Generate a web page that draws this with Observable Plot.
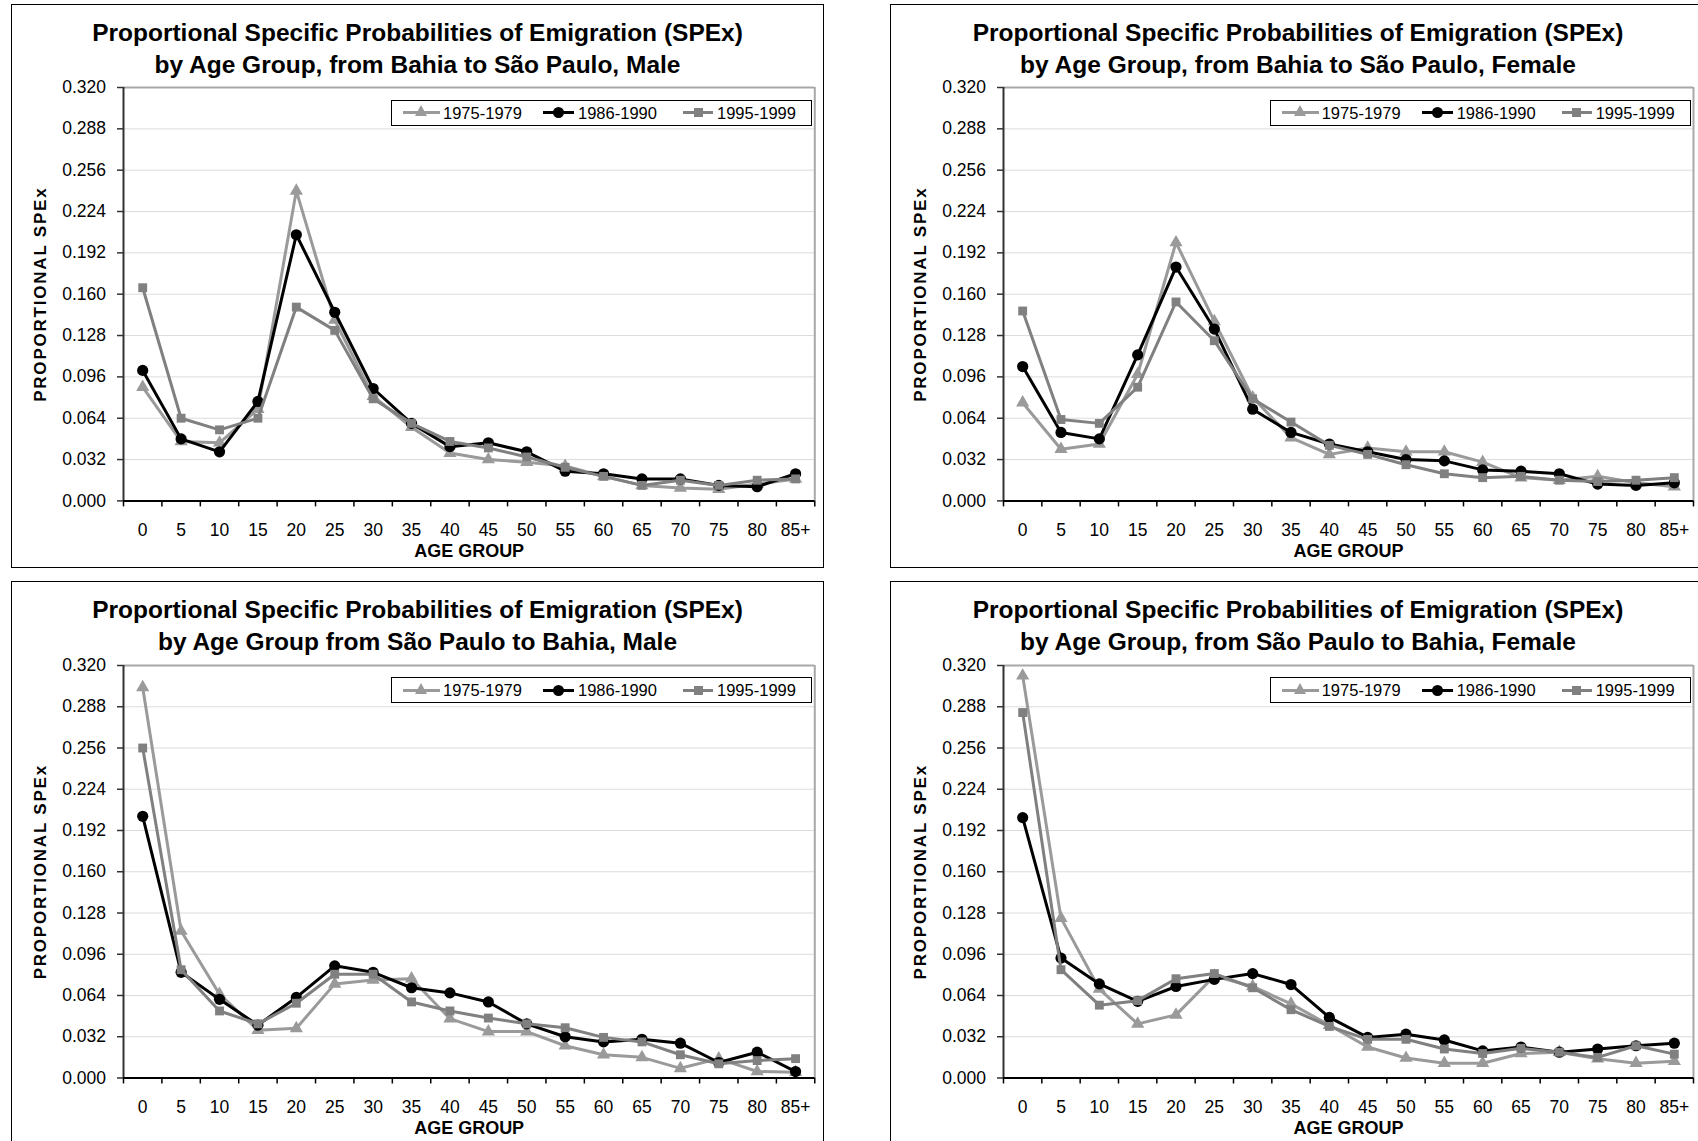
<!DOCTYPE html>
<html>
<head>
<meta charset="utf-8">
<script src="https://cdn.jsdelivr.net/npm/d3@7"></script>
<script src="https://cdn.jsdelivr.net/npm/@observablehq/plot@0.6"></script>
<style>
  html, body { margin: 0; padding: 0; background: #fff; overflow: hidden; }
  #page { position: relative; width: 1698px; height: 1141px; overflow: hidden; background: #fff;
          font-family: Arial, "Liberation Sans", sans-serif; color: #000; }
  .panel { position: absolute; border: 1px solid #000; box-sizing: border-box; }
  .title { position: absolute; text-align: center; font-weight: bold; font-size: 24.5px;
           line-height: 31.5px; white-space: nowrap; }
  .chart { position: absolute; }
  .legend { position: absolute; box-sizing: border-box; border: 1px solid #000; background: #fff;
            width: 421px; height: 26px; font-size: 16.5px; z-index: 5; }
  .legend .ln { position: absolute; height: 3px; top: 10.5px; }
  .legend .tx { position: absolute; top: -1px; height: 26px; line-height: 26px; white-space: nowrap; }
  .legend .tri { position: absolute; width: 0; height: 0; border-left: 6.5px solid transparent;
                 border-right: 6.5px solid transparent; }
  .legend .cir { position: absolute; width: 11px; height: 11px; border-radius: 50%; }
  .legend .sq { position: absolute; width: 9px; height: 9px; }
</style>
</head>
<body>
<div id="page"></div>
<script>
// ---------- data ----------
const ageGroups = ["0","5","10","15","20","25","30","35","40","45","50","55","60","65","70","75","80","85+"];
const periods = ["1975-1979", "1986-1990", "1995-1999"];
const yTicks = [0, 0.032, 0.064, 0.096, 0.128, 0.160, 0.192, 0.224, 0.256, 0.288, 0.320];

// Bahia -> São Paulo, Male
const bahiaSpMale1975 = [0.088, 0.046, 0.045, 0.071, 0.240, 0.140, 0.081, 0.057, 0.037, 0.032, 0.030, 0.027, 0.019, 0.012, 0.010, 0.009, 0.013, 0.017];
const bahiaSpMale1986 = [0.101, 0.048, 0.038, 0.077, 0.206, 0.146, 0.087, 0.060, 0.042, 0.045, 0.038, 0.023, 0.021, 0.017, 0.017, 0.012, 0.011, 0.021];
const bahiaSpMale1995 = [0.165, 0.064, 0.055, 0.064, 0.150, 0.132, 0.079, 0.060, 0.046, 0.041, 0.034, 0.026, 0.019, 0.012, 0.016, 0.012, 0.016, 0.017];

// Bahia -> São Paulo, Female
const bahiaSpFemale1975 = [0.076, 0.040, 0.044, 0.098, 0.200, 0.139, 0.080, 0.049, 0.036, 0.041, 0.038, 0.038, 0.030, 0.018, 0.016, 0.019, 0.014, 0.011];
const bahiaSpFemale1986 = [0.104, 0.053, 0.048, 0.113, 0.181, 0.133, 0.071, 0.053, 0.044, 0.038, 0.032, 0.031, 0.024, 0.023, 0.021, 0.013, 0.012, 0.014];
const bahiaSpFemale1995 = [0.147, 0.063, 0.060, 0.088, 0.154, 0.124, 0.079, 0.061, 0.043, 0.036, 0.028, 0.021, 0.018, 0.019, 0.016, 0.015, 0.016, 0.018];

// São Paulo -> Bahia, Male
const spBahiaMale1975 = [0.303, 0.114, 0.065, 0.037, 0.0385, 0.073, 0.076, 0.077, 0.046, 0.036, 0.036, 0.025, 0.018, 0.016, 0.0075, 0.015, 0.005, 0.0045];
const spBahiaMale1986 = [0.203, 0.082, 0.061, 0.041, 0.0625, 0.087, 0.082, 0.070, 0.066, 0.059, 0.042, 0.032, 0.028, 0.030, 0.027, 0.012, 0.020, 0.005];
const spBahiaMale1995 = [0.256, 0.084, 0.052, 0.042, 0.058, 0.0805, 0.0805, 0.059, 0.052, 0.0465, 0.042, 0.039, 0.0315, 0.028, 0.018, 0.011, 0.0135, 0.015];

// São Paulo -> Bahia, Female
const spBahiaFemale1975 = [0.312, 0.124, 0.069, 0.042, 0.049, 0.079, 0.071, 0.0575, 0.041, 0.024, 0.0155, 0.0115, 0.0115, 0.019, 0.020, 0.015, 0.0115, 0.013];
const spBahiaFemale1986 = [0.202, 0.093, 0.073, 0.0595, 0.071, 0.0765, 0.081, 0.0725, 0.047, 0.0315, 0.034, 0.0295, 0.021, 0.024, 0.020, 0.0225, 0.025, 0.027];
const spBahiaFemale1995 = [0.2835, 0.084, 0.0565, 0.060, 0.077, 0.081, 0.070, 0.053, 0.040, 0.030, 0.030, 0.0225, 0.019, 0.023, 0.020, 0.016, 0.025, 0.0185];

const titles = [
  ["Proportional Specific Probabilities of Emigration (SPEx)", "by Age Group, from Bahia to São Paulo, Male"],
  ["Proportional Specific Probabilities of Emigration (SPEx)", "by Age Group, from Bahia to São Paulo, Female"],
  ["Proportional Specific Probabilities of Emigration (SPEx)", "by Age Group from São Paulo to Bahia, Male"],
  ["Proportional Specific Probabilities of Emigration (SPEx)", "by Age Group, from São Paulo to Bahia, Female"]
];
const xLabel = "AGE GROUP";
const yLabel = "PROPORTIONAL SPEx";

// ---------- styles ----------
const colors = ["#9a9a9a", "#000000", "#808080"];
const symbols = ["triangle", "circle", "square"];
const radii = [4.9, 5.6, 5.0];

// ---------- layout ----------
const panels = [
  {box: [11, 4, 813, 564],  cx: 417.5, titleTop: 17.3,  fl: 122.7,  fr: 814,    ft: 87.3,  fb: 500.7, series: [bahiaSpMale1975, bahiaSpMale1986, bahiaSpMale1995]},
  {box: [890, 4, 816, 564], cx: 1298,  titleTop: 17.3,  fl: 1002.7, fr: 1692.7, ft: 87.3,  fb: 500.7, series: [bahiaSpFemale1975, bahiaSpFemale1986, bahiaSpFemale1995]},
  {box: [11, 581, 813, 580], cx: 417.5, titleTop: 594.2, fl: 122.7,  fr: 814,    ft: 664.5, fb: 1077,  series: [spBahiaMale1975, spBahiaMale1986, spBahiaMale1995]},
  {box: [890, 581, 816, 580], cx: 1298, titleTop: 594.2, fl: 1002.7, fr: 1692.7, ft: 664.5, fb: 1077,  series: [spBahiaFemale1975, spBahiaFemale1986, spBahiaFemale1995]}
];

const page = document.getElementById("page");
const ML = 110, MR = 4, MT = 8, MB = 64;

panels.forEach((p, k) => {
  const box = document.createElement("div");
  box.className = "panel";
  Object.assign(box.style, {left: p.box[0] + "px", top: p.box[1] + "px", width: p.box[2] + "px", height: p.box[3] + "px"});
  page.appendChild(box);

  const t = document.createElement("div");
  t.className = "title";
  Object.assign(t.style, {left: (p.cx - 450) + "px", width: "900px", top: p.titleTop + "px"});
  t.innerHTML = titles[k][0] + "<br>" + titles[k][1];
  page.appendChild(t);

  const W = p.fr - p.fl + ML + MR;
  const H = p.fb - p.ft + MT + MB;

  const marks = [
    Plot.gridY({ticks: yTicks.filter(v => v > 0 && v < 0.32), stroke: "#dcdcdc", strokeOpacity: 1, strokeWidth: 1}),
    Plot.ruleY([0.32], {stroke: "#a8a8a8", strokeWidth: 2}),
    Plot.ruleX([17.5], {stroke: "#a8a8a8", strokeWidth: 2}),
    Plot.axisY({ticks: yTicks, tickFormat: d3.format(".3f"), tickSize: 6, tickPadding: 11.5, label: null,
                stroke: "#333", strokeWidth: 1.5, fill: "#000"}),
    Plot.axisX({ticks: d3.range(-0.5, 18, 1), tickSize: 6, tickFormat: () => "", label: null,
                stroke: "#000", strokeWidth: 1.5}),
    Plot.axisX({ticks: d3.range(ageGroups.length), tickSize: 0, tickPadding: 22.5,
                tickFormat: i => ageGroups[i], label: null, fill: "#000"}),
    Plot.ruleX([-0.5], {stroke: "#333", strokeWidth: 2}),
    Plot.ruleY([0], {stroke: "#000", strokeWidth: 2})
  ];

  p.series.forEach((vals, j) => {
    const rows = ageGroups.map((a, i) => ({i, age: a, v: vals[i], period: periods[j]}));
    marks.push(Plot.line(rows, {x: "i", y: "v", stroke: colors[j], strokeWidth: 3, strokeLinejoin: "round"}));
    marks.push(Plot.dot(rows, {x: "i", y: "v", symbol: symbols[j], r: radii[j], fill: colors[j], stroke: "none"}));
  });

  marks.push(Plot.text([xLabel], {frameAnchor: "bottom", dy: 50.5, lineAnchor: "middle", textAnchor: "middle",
                                  fontWeight: "bold", fontSize: 18, fill: "#000"}));
  marks.push(Plot.text([yLabel], {frameAnchor: "left", dx: -82.7, rotate: -90, lineAnchor: "middle", textAnchor: "middle",
                                  fontWeight: "bold", fontSize: 17, fill: "#000"}));

  const svg = Plot.plot({
    width: W, height: H,
    marginLeft: ML, marginRight: MR, marginTop: MT, marginBottom: MB,
    style: {fontFamily: 'Arial, "Liberation Sans", sans-serif', fontSize: "17.5px", color: "#000", background: "transparent", overflow: "visible"},
    x: {domain: [-0.5, 17.5]},
    y: {domain: [0, 0.32]},
    marks
  });
  svg.classList.add("chart");
  Object.assign(svg.style, {position: "absolute", left: (p.fl - ML) + "px", top: (p.ft - MT) + "px", maxWidth: "none"});
  svg.querySelectorAll("text").forEach(el => {
    if (el.textContent === yLabel) el.style.letterSpacing = "1.8px";
  });
  page.appendChild(svg);

  // legend
  const lg = document.createElement("div");
  lg.className = "legend";
  Object.assign(lg.style, {left: (p.fr - 2 - 421) + "px", top: (p.ft + 12.5) + "px"});
  const lineSpans = [[12, 49], [152, 183], [292, 322]];
  const markerCx = [30.5, 167.5, 307];
  const textStart = [52, 187, 326];
  let html = "";
  periods.forEach((name, j) => {
    html += `<div class="ln" style="left:${lineSpans[j][0] - 1}px;width:${lineSpans[j][1] - lineSpans[j][0]}px;background:${colors[j]}"></div>`;
    if (j === 0) html += `<div class="tri" style="left:${markerCx[j] - 6.5 - 1}px;top:${13 - 7.3 - 1}px;border-bottom:11px solid ${colors[j]}"></div>`;
    if (j === 1) html += `<div class="cir" style="left:${markerCx[j] - 5.5 - 1}px;top:${13 - 5.5 - 1}px;background:${colors[j]}"></div>`;
    if (j === 2) html += `<div class="sq" style="left:${markerCx[j] - 4.5 - 1}px;top:${13 - 4.5 - 1}px;background:${colors[j]}"></div>`;
    html += `<div class="tx" style="left:${textStart[j] - 1}px">${name}</div>`;
  });
  lg.innerHTML = html;
  page.appendChild(lg);
});
</script>
</body>
</html>
